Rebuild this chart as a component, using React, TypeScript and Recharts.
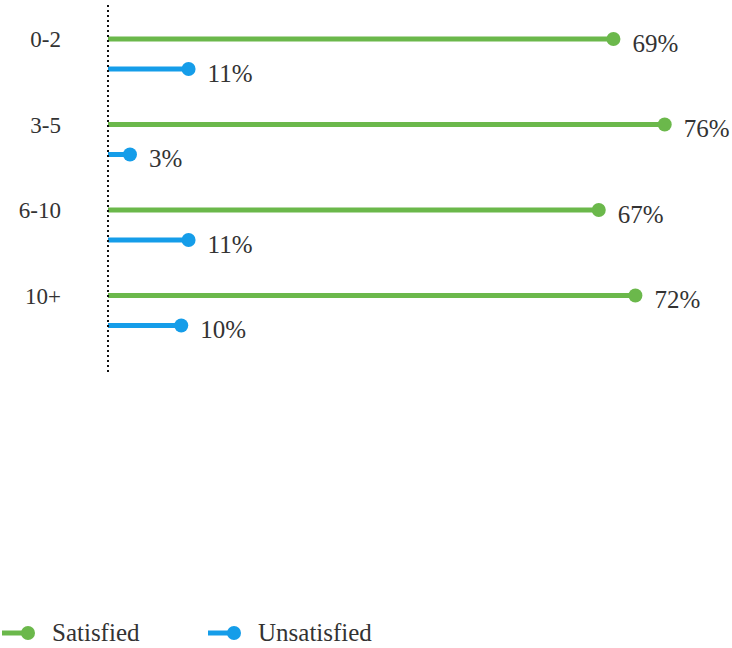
import { BarChart, Bar, XAxis, YAxis, Legend, LabelList } from "recharts";

const categories = ["0-2", "3-5", "6-10", "10+"];
const satisfied = [69, 76, 67, 72];
const unsatisfied = [11, 3, 11, 10];

const data = categories.map((group, i) => ({
  group,
  satisfied: satisfied[i],
  unsatisfied: unsatisfied[i],
}));

const GREEN = "#6bb84b";
const BLUE = "#159de9";
const TEXT = "#333333";
const FONT = "Liberation Serif";

// line from the axis with a round dot at the value
const Lollipop = (props: any) => {
  const { x, y, width, height, fill } = props;
  const cy = y + height / 2;
  return (
    <g>
      <line x1={x} y1={cy} x2={x + width} y2={cy} stroke={fill} strokeWidth={5} />
      <circle cx={x + width} cy={cy} r={7} fill={fill} />
    </g>
  );
};

const ValueLabel = (props: any) => {
  const { x, y, width, height, value } = props;
  return (
    <text
      x={Number(x) + Number(width) + 19}
      y={Number(y) + Number(height) / 2 + 4}
      dominantBaseline="central"
      fill={TEXT}
      style={{ fontFamily: FONT, fontSize: 25 }}
    >
      {value}%
    </text>
  );
};

const CategoryTick = (props: any) => {
  const { x, y, payload } = props;
  return (
    <text
      x={x}
      y={y}
      dy={-14}
      textAnchor="end"
      dominantBaseline="central"
      fill={TEXT}
      style={{ fontFamily: FONT, fontSize: 23 }}
    >
      {payload.value}
    </text>
  );
};

const LegendContent = (props: any) => {
  const { payload } = props;
  return (
    <div style={{ display: "flex", alignItems: "center", height: 30 }}>
      {(payload || []).map((entry: any) => (
        <div
          key={entry.value}
          style={{ display: "flex", alignItems: "center", width: 206 }}
        >
          <svg width={36} height={16}>
            <line x1={2} y1={8} x2={28} y2={8} stroke={entry.color} strokeWidth={5} />
            <circle cx={28} cy={8} r={7} fill={entry.color} />
          </svg>
          <span
            style={{
              marginLeft: 16,
              fontFamily: FONT,
              fontSize: 25,
              color: TEXT,
            }}
          >
            {entry.value}
          </span>
        </div>
      ))}
    </div>
  );
};

export default function App() {
  return (
    <div style={{ position: "absolute", left: 0, top: 0 }}>
      <BarChart
        width={732}
        height={648}
        data={data}
        layout="vertical"
        margin={{ top: 5, right: 38, left: 0, bottom: 245 }}
        barGap={0}
      >
        <XAxis type="number" domain={[0, 80]} hide />
        <YAxis
          type="category"
          dataKey="group"
          width={108}
          padding={{ top: 6, bottom: 20 }}
          axisLine={{ stroke: "#111", strokeWidth: 2, strokeDasharray: "2 3" }}
          tickLine={false}
          tickSize={0}
          tickMargin={47}
          tick={<CategoryTick />}
        />
        <Legend
          verticalAlign="bottom"
          align="left"
          wrapperStyle={{ left: 0, bottom: 0, width: 732 }}
          content={<LegendContent />}
        />
        <Bar
          dataKey="satisfied"
          name="Satisfied"
          fill={GREEN}
          barSize={30}
          shape={<Lollipop />}
          isAnimationActive={false}
        >
          <LabelList dataKey="satisfied" content={<ValueLabel />} />
        </Bar>
        <Bar
          dataKey="unsatisfied"
          name="Unsatisfied"
          fill={BLUE}
          barSize={30}
          shape={<Lollipop />}
          isAnimationActive={false}
        >
          <LabelList dataKey="unsatisfied" content={<ValueLabel />} />
        </Bar>
      </BarChart>
    </div>
  );
}
